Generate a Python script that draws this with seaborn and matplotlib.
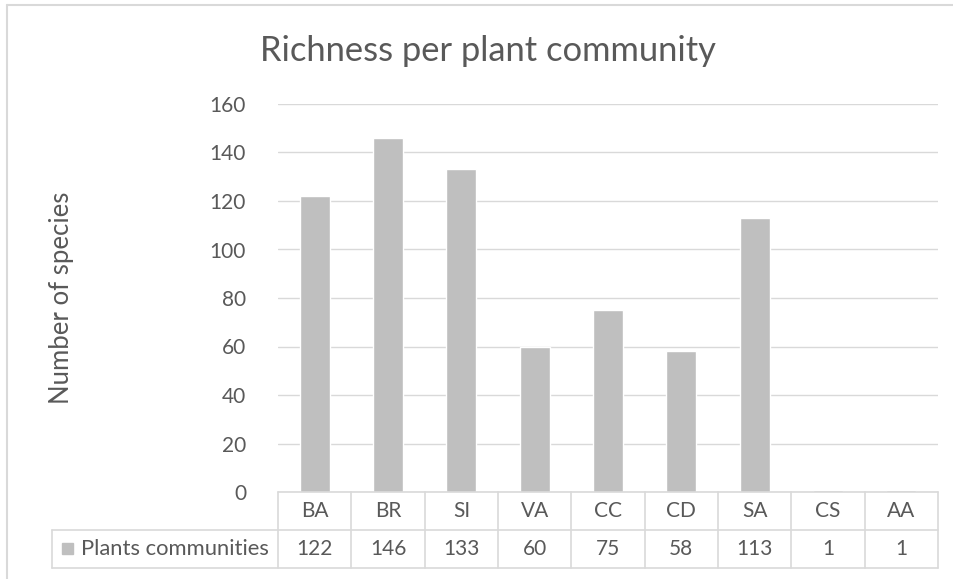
import matplotlib
matplotlib.use('Agg')
import matplotlib.pyplot as plt
import seaborn as sns
import pandas as pd
from matplotlib.patches import Rectangle
from matplotlib.lines import Line2D

# chart data
communities = ['BA', 'BR', 'SI', 'VA', 'CC', 'CD', 'SA', 'CS', 'AA']
richness = [122, 146, 133, 60, 75, 58, 113, 1, 1]
series_name = 'Plants communities'
y_ticks = [0, 20, 40, 60, 80, 100, 120, 140, 160]

df = pd.DataFrame({'community': communities, 'richness': richness})

sns.set_style('white')
plt.rcParams['font.family'] = ['Lato', 'DejaVu Sans']

text_col = '#595959'
grid_col = '#D9D9D9'
bar_col = '#BFBFBF'
fs = 15

W, H = 954, 579
fig = plt.figure(figsize=(W / 100, H / 100), dpi=100)
L, R, T, B = 278, 938, 104, 492
ax = fig.add_axes([L / W, 1 - B / H, (R - L) / W, (B - T) / H])

sns.barplot(data=df, x='community', y='richness', color=bar_col,
            saturation=1, width=0.41, ax=ax)

ax.set_xlim(-0.5, len(communities) - 0.5)
ax.set_ylim(0, 160)
ax.set_yticks(y_ticks)
ax.set_yticklabels([str(t) for t in y_ticks], color=text_col, fontsize=fs)
ax.tick_params(axis='y', length=0, pad=23)
ax.set_xticks([])
ax.set_xlabel('')
ax.set_ylabel('')
ax.yaxis.grid(True, color=grid_col, linewidth=1)
ax.set_axisbelow(True)
for s in ax.spines.values():
    s.set_visible(False)

# data table below the plot
ax_h = B - T
row1 = -(530 - B) / ax_h
row2 = -(568 - B) / ax_h
left_cell = (52 - L) / (R - L)
btr = ax.get_xaxis_transform()
lw = 1.2
ax.add_line(Line2D([-0.5, len(communities) - 0.5], [0, 0], transform=btr,
                   color=grid_col, lw=lw, clip_on=False))
for yy in (row1, row2):
    ax.add_line(Line2D([left_cell, 1], [yy, yy], transform=ax.transAxes,
                       color=grid_col, lw=lw, clip_on=False))
ax.add_line(Line2D([left_cell, left_cell], [row1, row2], transform=ax.transAxes,
                   color=grid_col, lw=lw, clip_on=False))
for i in range(len(communities) + 1):
    ax.add_line(Line2D([i - 0.5, i - 0.5], [0, row2], transform=btr,
                       color=grid_col, lw=lw, clip_on=False))
for i, (c, v) in enumerate(zip(communities, richness)):
    ax.text(i, row1 / 2, c, transform=btr, ha='center', va='center',
            color=text_col, fontsize=fs)
    ax.text(i, (row1 + row2) / 2, str(v), transform=btr, ha='center',
            va='center', color=text_col, fontsize=fs)

# legend key inside the table
fig.add_artist(Rectangle((62 / W, 1 - 554 / H), 11 / W, 11 / H,
                         transform=fig.transFigure, color=bar_col))
fig.text(81 / W, 1 - 549 / H, series_name, ha='left', va='center',
         color=text_col, fontsize=15.8)

# titles
fig.text(488 / W, 1 - 51 / H, 'Richness per plant community', ha='center',
         va='center', color=text_col, fontsize=24.8)
fig.text(61 / W, 1 - 298 / H, 'Number of species', ha='center', va='center',
         rotation=90, color=text_col, fontsize=18.5)

# chart area border (top and left edges visible)
fig.add_artist(Line2D([7 / W, 1], [1 - 5 / H, 1 - 5 / H],
                      transform=fig.transFigure, color=grid_col, lw=1.5))
fig.add_artist(Line2D([7 / W, 7 / W], [0, 1 - 5 / H],
                      transform=fig.transFigure, color=grid_col, lw=1.5))

fig.savefig('out.png', dpi=100, facecolor='white')
